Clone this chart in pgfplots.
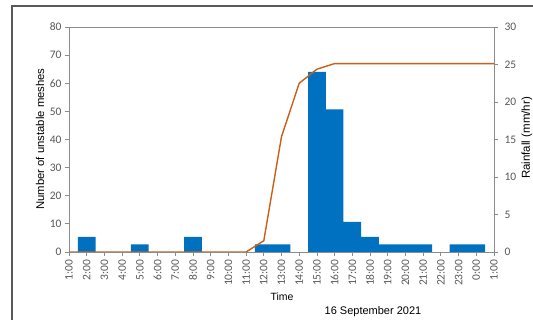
\documentclass[border=0pt]{standalone}
\usepackage{pgfplots}
\pgfplotsset{compat=1.18}
\usepackage{fontspec}
\setmainfont{Liberation Sans}
\newfontfamily\carlito{Carlito}
\definecolor{barblue}{HTML}{0070C0}
\definecolor{lineorange}{HTML}{C8601A}
\definecolor{axgray}{HTML}{8C8C8C}
\definecolor{txtgray}{HTML}{595959}
\begin{document}
\begin{tikzpicture}
\useasboundingbox (0pt,0pt) rectangle (533pt,-320pt);
\fill[white] (0pt,0pt) rectangle (533pt,-320pt);
\draw[black!65, line width=1.4pt] (12pt,-6pt) rectangle (600pt,-400pt);
% right axis: rainfall bars
\begin{axis}[
  at={(69pt,-252pt)}, anchor=south west,
  width=425pt, height=225pt, scale only axis,
  xmin=0, xmax=24, ymin=0, ymax=30,
  axis x line=none,
  axis y line*=right,
  ytick={0,5,...,30},
  tick align=outside,
  major tick length=4pt,
  axis line style={axgray, line width=0.8pt},
  every tick/.style={axgray, line width=0.8pt},
  /pgf/number format/assume math mode=true,
  yticklabel style={font=\carlito\fontsize{11.5}{13}\selectfont, text=txtgray, xshift=3pt},
]
\addplot[ybar, bar width=1, bar shift=0pt, fill=barblue, draw=none] coordinates {
  (1,2) (4,1) (7,2) (11,1) (12,1) (14,24) (15,19) (16,4) (17,2)
  (18,1) (19,1) (20,1) (22,1) (23,1)
};
\end{axis}
% left axis: cumulative unstable meshes
\begin{axis}[
  at={(69pt,-252pt)}, anchor=south west,
  width=425pt, height=225pt, scale only axis,
  xmin=0, xmax=24, ymin=0, ymax=80,
  xtick={0,1,...,24},
  xticklabels={1:00,2:00,3:00,4:00,5:00,6:00,7:00,8:00,9:00,10:00,11:00,12:00,13:00,14:00,15:00,16:00,17:00,18:00,19:00,20:00,21:00,22:00,23:00,0:00,1:00},
  ytick={0,10,...,80},
  xtick pos=bottom, ytick pos=left,
  tick align=outside,
  major tick length=4pt,
  axis line style={axgray, line width=0.8pt},
  every tick/.style={axgray, line width=0.8pt},
  /pgf/number format/assume math mode=true,
  yticklabel style={font=\carlito\fontsize{11.5}{13}\selectfont, text=txtgray},
  xticklabel style={font=\carlito\fontsize{11.5}{13}\selectfont, text=txtgray, rotate=90, anchor=east},
]
\addplot[lineorange, line width=1.4pt] coordinates {
  (0,0) (1,0) (2,0) (3,0) (4,0) (5,0) (6,0) (7,0) (8,0) (9,0) (10,0)
  (11,4) (12,41) (13,60) (14,65) (15,67) (16,67) (17,67) (18,67) (19,67)
  (20,67) (21,67) (22,67) (23,67) (24,67)
};
\end{axis}
\node[rotate=90, font=\fontsize{11.3}{13}\selectfont] at (40pt,-139pt) {Number of unstable meshes};
\node[rotate=90, font=\fontsize{11.5}{13}\selectfont] at (527pt,-138pt) {Rainfall (mm/hr)};
\node[font=\fontsize{10.5}{12}\selectfont] at (282pt,-297pt) {Time};
\node[font=\fontsize{11}{13}\selectfont] at (373pt,-312pt) {16 September 2021};
\end{tikzpicture}
\end{document}
